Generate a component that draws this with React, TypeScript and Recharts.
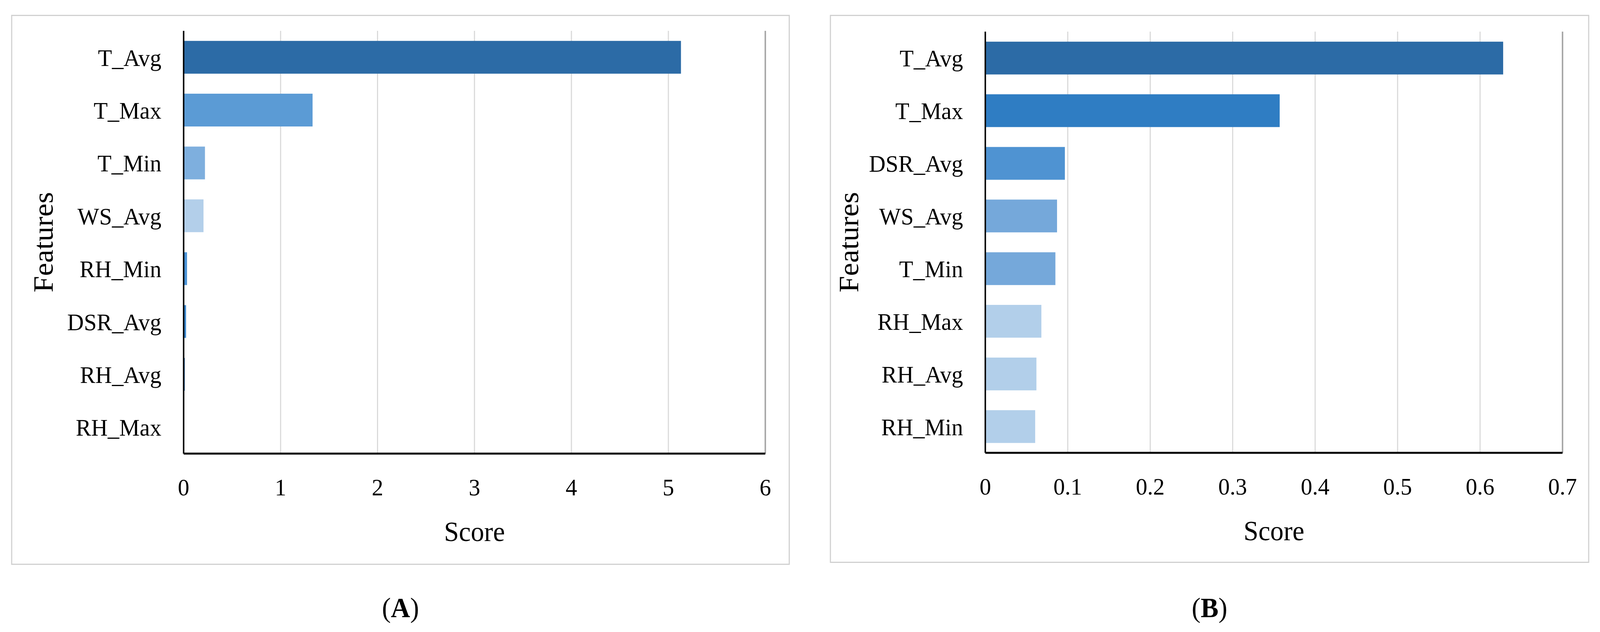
import React from "react";
import { BarChart, Bar, XAxis, YAxis, CartesianGrid, Cell, Label, ReferenceLine } from "recharts";

// Panel A: feature scores
const featuresA = ["T_Avg", "T_Max", "T_Min", "WS_Avg", "RH_Min", "DSR_Avg", "RH_Avg", "RH_Max"];
const scoresA = [5.13, 1.33, 0.22, 0.205, 0.035, 0.025, 0.012, 0.002];
const ticksA = [0, 1, 2, 3, 4, 5, 6];

// Panel B: feature scores
const featuresB = ["T_Avg", "T_Max", "DSR_Avg", "WS_Avg", "T_Min", "RH_Max", "RH_Avg", "RH_Min"];
const scoresB = [0.628, 0.357, 0.0965, 0.087, 0.085, 0.068, 0.062, 0.0605];
const ticksB = [0, 0.1, 0.2, 0.3, 0.4, 0.5, 0.6, 0.7];

const colorsA = ["#2C6BA6", "#5B9BD5", "#7EAFDE", "#B3CFEA", "#4A92D6", "#3A86CC", "#2E6EAD", "#2E6EAD"];
const colorsB = ["#2C6BA6", "#2F7DC3", "#4F93D2", "#75A8DA", "#75A8DA", "#B2CFEA", "#B2CFEA", "#B2CFEA"];

const FONT = '"Liberation Serif", "Times New Roman", serif';
const PAGE_W = 4313;
const PAGE_H = 1619;

type Rect = { left: number; top: number; width: number; height: number };
type Insets = { left: number; top: number; right: number; bottom: number };

type PanelProps = {
  features: string[];
  scores: number[];
  ticks: number[];
  colors: string[];
  letter: string;
  box: Rect;
  plot: Insets;
  featuresX: number;
};

function Panel({ features, scores, ticks, colors, letter, box, plot, featuresX }: PanelProps) {
  const data = features.map((f, i) => ({ feature: f, score: scores[i] }));
  const max = ticks[ticks.length - 1];

  return (
    <>
      <div
        style={{
          position: "absolute",
          left: box.left,
          top: box.top,
          width: box.width,
          height: box.height,
          border: "3px solid #D0D0D0",
          boxSizing: "border-box",
        }}
      />
      <div style={{ position: "absolute", left: box.left, top: box.top }}>
        <BarChart
          width={box.width}
          height={box.height}
          data={data}
          layout="vertical"
          margin={{ top: plot.top, right: plot.right, bottom: 0, left: 0 }}
          barCategoryGap="19%"
        >
          <CartesianGrid horizontal={false} stroke="#D9D9D9" strokeWidth={3} />
          <XAxis
            type="number"
            dataKey="score"
            domain={[0, max]}
            ticks={ticks}
            interval={0}
            height={plot.bottom}
            tickLine={false}
            tickSize={0}
            tickMargin={63}
            axisLine={{ stroke: "#000", strokeWidth: 5 }}
            tick={{ fill: "#000", fontSize: 62, fontFamily: FONT }}
          >
            <Label
              content={(p: any) => {
                const vb = p.viewBox;
                return (
                  <text
                    x={vb.x + vb.width / 2}
                    y={vb.y + 199}
                    textAnchor="middle"
                    dominantBaseline="central"
                    fontSize={72}
                    fontFamily={FONT}
                    fill="#000"
                  >
                    Score
                  </text>
                );
              }}
            />
          </XAxis>
          <XAxis
            xAxisId="top"
            orientation="top"
            type="number"
            domain={[0, max]}
            height={0}
            tick={false}
            tickLine={false}
            axisLine={{ stroke: "#A6A6A6", strokeWidth: 4 }}
          />
          <YAxis
            type="category"
            dataKey="feature"
            width={plot.left}
            interval={0}
            tickLine={false}
            tickSize={0}
            tickMargin={60}
            axisLine={{ stroke: "#000", strokeWidth: 4 }}
            tick={{ fill: "#000", fontSize: 62, fontFamily: FONT }}
          >
            <Label
              content={(p: any) => {
                const vb = p.viewBox;
                const x = vb.x + featuresX;
                const y = vb.y + vb.height / 2;
                return (
                  <text
                    x={x}
                    y={y}
                    transform={`rotate(-90 ${x} ${y})`}
                    textAnchor="middle"
                    dominantBaseline="central"
                    fontSize={76}
                    fontFamily={FONT}
                    fill="#000"
                  >
                    Features
                  </text>
                );
              }}
            />
          </YAxis>
          <ReferenceLine x={max} stroke="#A6A6A6" strokeWidth={4} />
          <Bar dataKey="score" isAnimationActive={false}>
            {data.map((d, i) => (
              <Cell key={d.feature} fill={colors[i]} />
            ))}
          </Bar>
        </BarChart>
      </div>
      <div
        style={{
          position: "absolute",
          left: box.left,
          width: box.width,
          top: 1521,
          lineHeight: "72px",
          fontSize: 72,
          fontFamily: FONT,
          textAlign: "center",
          color: "#000",
        }}
      >
        (<b>{letter}</b>)
      </div>
    </>
  );
}

export default function App() {
  // the layout is drawn for a 4313x1619 page; fit it to whatever viewport we get
  const vw = typeof window !== "undefined" ? window.innerWidth : PAGE_W;
  const vh = typeof window !== "undefined" ? window.innerHeight : PAGE_H;
  const sx = vw / PAGE_W;
  const sy = vh / PAGE_H;

  return (
    <div
      style={{
        position: "absolute",
        left: 0,
        top: 0,
        width: PAGE_W,
        height: PAGE_H,
        background: "#fff",
        overflow: "hidden",
        transform: `scale(${sx}, ${sy})`,
        transformOrigin: "0 0",
      }}
    >
      <Panel
        features={featuresA}
        scores={scoresA}
        ticks={ticksA}
        colors={colorsA}
        letter="A"
        box={{ left: 30, top: 38, width: 2099, height: 1409 }}
        plot={{ left: 465, top: 41, right: 66, bottom: 285 }}
        featuresX={87}
      />
      <Panel
        features={featuresB}
        scores={scoresB}
        ticks={ticksB}
        colors={colorsB}
        letter="B"
        box={{ left: 2237, top: 38, width: 2047, height: 1404 }}
        plot={{ left: 419, top: 43, right: 72, bottom: 282 }}
        featuresX={51}
      />
    </div>
  );
}
